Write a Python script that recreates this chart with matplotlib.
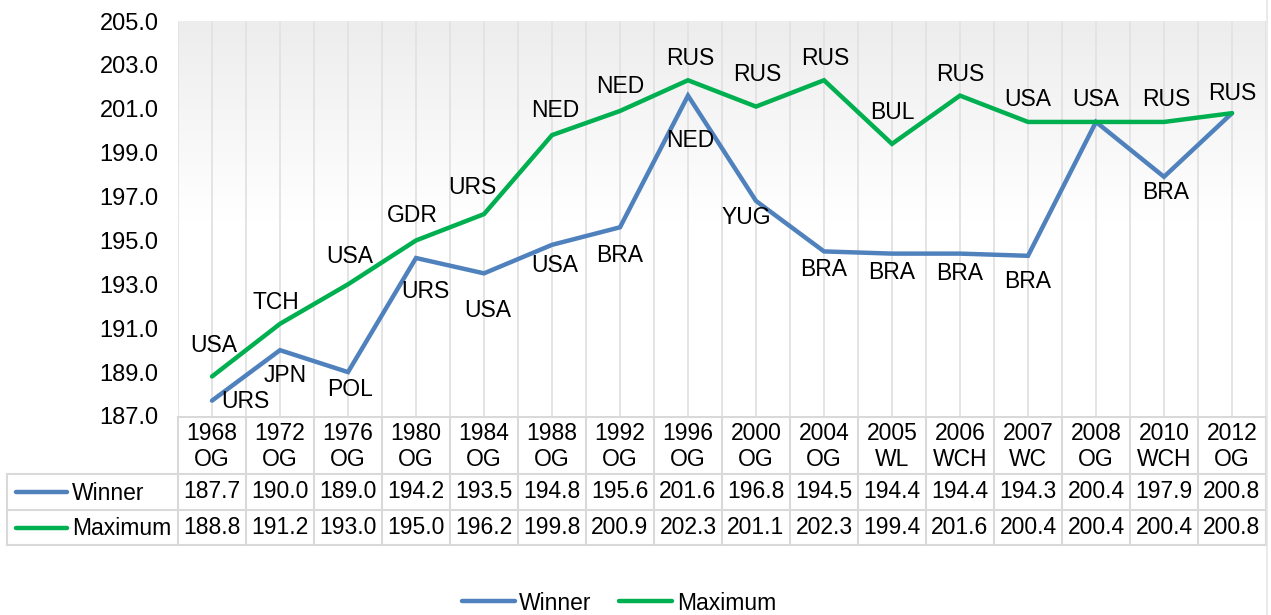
import numpy as np
import matplotlib
matplotlib.use("Agg")
import matplotlib.pyplot as plt
from matplotlib.lines import Line2D
from matplotlib.colors import LinearSegmentedColormap

# ---- data -------------------------------------------------------------
years = ["1968", "1972", "1976", "1980", "1984", "1988", "1992", "1996",
         "2000", "2004", "2005", "2006", "2007", "2008", "2010", "2012"]
events = ["OG", "OG", "OG", "OG", "OG", "OG", "OG", "OG",
          "OG", "OG", "WL", "WCH", "WC", "OG", "WCH", "OG"]
winner = [187.7, 190.0, 189.0, 194.2, 193.5, 194.8, 195.6, 201.6,
          196.8, 194.5, 194.4, 194.4, 194.3, 200.4, 197.9, 200.8]
maximum = [188.8, 191.2, 193.0, 195.0, 196.2, 199.8, 200.9, 202.3,
           201.1, 202.3, 199.4, 201.6, 200.4, 200.4, 200.4, 200.8]
winner_team = ["URS", "JPN", "POL", "URS", "USA", "USA", "BRA", "NED",
               "YUG", "BRA", "BRA", "BRA", "BRA", "USA", "BRA", "RUS"]
maximum_team = ["USA", "TCH", "USA", "GDR", "URS", "NED", "NED", "RUS",
                "RUS", "RUS", "BUL", "RUS", "USA", "USA", "RUS", "RUS"]
y_ticks = [187.0, 189.0, 191.0, 193.0, 195.0, 197.0, 199.0, 201.0, 203.0, 205.0]

# ---- label placement (pixel offsets from each point, +y = up) ---------
winner_offsets = [(33, -1), (5, -25), (2, -17), (9, -34), (4, -37), (3, -21),
                  (0, -28), (2, -45), (-10, -17), (0, -18), (0, -19), (0, -20),
                  (0, -26), (0, 22), (2, -16), (0, 20)]
maximum_offsets = [(2, 31), (-4, 21), (2, 28), (-4, 25), (-12, 27), (3, 25),
                   (0, 24), (2, 22), (1, 32), (1, 22), (0, 31), (0, 21),
                   (0, 22), (0, 22), (2, 22), (0, 20)]

# ---- style -------------------------------------------------------------
W, H, DPI = 1271, 615, 100
BLUE = "#4f81bd"
GREEN = "#00b050"
GRID = "#e2e2e2"
BORDER = "#d9d9d9"
FS = 16.5

plt.rcParams["font.family"] = ["Liberation Sans", "DejaVu Sans"]
plt.rcParams["font.size"] = FS

fig = plt.figure(figsize=(W / DPI, H / DPI), dpi=DPI)
fig.patch.set_facecolor("white")

# plot area in pixels: x 178..1266, y 21..416 (image coordinates)
px_l, px_r, px_t, px_b = 178, 1266, 21, 416
ax = fig.add_axes([px_l / W, 1 - px_b / H, (px_r - px_l) / W, (px_b - px_t) / H])

n = len(years)
x = np.arange(n)
ax.set_xlim(-0.5, n - 0.5)
ax.set_ylim(y_ticks[0], y_ticks[-1])

# soft vertical gradient behind the plot
grad = LinearSegmentedColormap.from_list("bg", ["#ffffff", "#ffffff", "#ededed"])
ax.imshow(np.linspace(1, 0, 256).reshape(-1, 1), cmap=grad, aspect="auto",
          extent=(-0.5, n - 0.5, y_ticks[0], y_ticks[-1]), zorder=0,
          interpolation="bicubic")

# vertical grid at category centres and edges
for gx in np.arange(-0.5, n, 0.5):
    ax.axvline(gx, color=GRID, lw=1.3, zorder=1)

for s in ax.spines.values():
    s.set_visible(False)
ax.set_xticks([])
ax.set_yticks(y_ticks)
ax.set_yticklabels([f"{v:.1f}" for v in y_ticks], fontsize=17)
ax.tick_params(axis="y", length=0, pad=14)

ax.plot(x, winner, color=BLUE, lw=3.2, solid_capstyle="round",
        solid_joinstyle="miter", zorder=3)
ax.plot(x, maximum, color=GREEN, lw=3.2, solid_capstyle="round",
        solid_joinstyle="miter", zorder=4)

for i in range(n):
    dx, dy = maximum_offsets[i]
    ax.annotate(maximum_team[i], (x[i], maximum[i]), xytext=(dx, dy),
                textcoords="offset pixels", ha="center", va="center",
                fontsize=FS, zorder=5, annotation_clip=False)
    # where both series share the point and the team, one label covers both
    if winner[i] == maximum[i] and winner_team[i] == maximum_team[i]:
        continue
    dx, dy = winner_offsets[i]
    ax.annotate(winner_team[i], (x[i], winner[i]), xytext=(dx, dy),
                textcoords="offset pixels", ha="center", va="center",
                fontsize=FS, zorder=5, annotation_clip=False)

# ---- data table below the plot ----------------------------------------
tab = fig.add_axes([0, 0, 1, 1], zorder=-1)
tab.set_xlim(0, W)
tab.set_ylim(H, 0)
tab.axis("off")

fig.canvas.draw()
edges = ax.transData.transform(np.column_stack([np.arange(n + 1) - 0.5,
                                                np.full(n + 1, y_ticks[0])]))[:, 0]
centers = (edges[:-1] + edges[1:]) / 2
left_edge = 7
row_hdr = (417, 474)
row_win = (474, 510)
row_max = (510, 545)

lw_b = 1.5
# horizontal rules
tab.plot([edges[0], edges[-1]], [row_hdr[0]] * 2, color=BORDER, lw=lw_b)
for yy in (row_win[0], row_max[0], row_max[1]):
    tab.plot([left_edge, edges[-1]], [yy] * 2, color=BORDER, lw=lw_b)
# vertical rules
for ex in edges:
    tab.plot([ex, ex], [row_hdr[0], row_max[1]], color=BORDER, lw=lw_b)
tab.plot([left_edge, left_edge], [row_win[0], row_max[1]], color=BORDER, lw=lw_b)

hy = sum(row_hdr) / 2 + 1
wy = sum(row_win) / 2
my = sum(row_max) / 2
for i in range(n):
    tab.text(centers[i], hy, f"{years[i]}\n{events[i]}", ha="center",
             va="center", fontsize=FS, linespacing=1.12)
    tab.text(centers[i], wy, f"{winner[i]:.1f}", ha="center", va="center",
             fontsize=FS)
    tab.text(centers[i], my, f"{maximum[i]:.1f}", ha="center", va="center",
             fontsize=FS)

for (name, col, yy) in (("Winner", BLUE, wy), ("Maximum", GREEN, my)):
    tab.plot([16, 67], [yy, yy], color=col, lw=3.2, solid_capstyle="round")
    tab.text(72, yy + 1, name, ha="left", va="center", fontsize=FS)

# faint outer border on the right
tab.plot([1267, 1267], [0, H], color="#e6e6e6", lw=1.2)

# ---- legend -----------------------------------------------------------
handles = [Line2D([], [], color=BLUE, lw=3.2, solid_capstyle="round"),
           Line2D([], [], color=GREEN, lw=3.2, solid_capstyle="round")]
fig.legend(handles, ["Winner", "Maximum"], loc="center",
           bbox_to_anchor=(619 / W, 1 - 603 / H), ncol=2, frameon=False,
           fontsize=FS, handlelength=2.3, handletextpad=0.2,
           columnspacing=1.2, borderpad=0)

fig.savefig("out.png", dpi=DPI, facecolor="white")
